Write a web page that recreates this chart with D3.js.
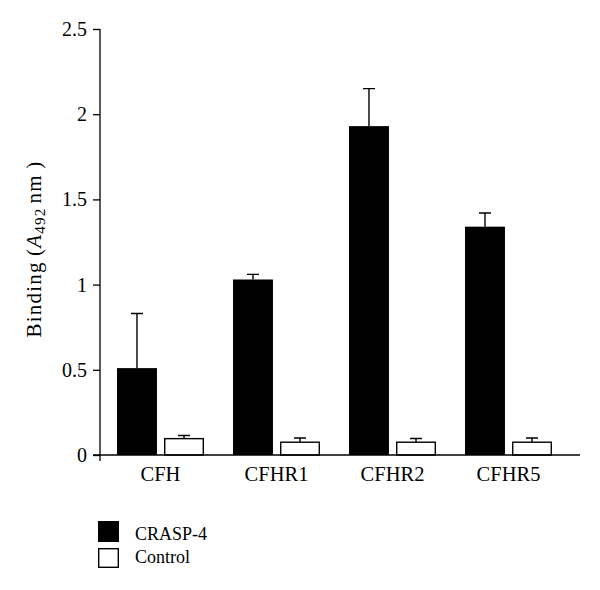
<!DOCTYPE html>
<html>
<head>
<meta charset="utf-8">
<script src="https://cdn.jsdelivr.net/npm/d3@7"></script>
<style>
  body { margin: 0; background: #fff; }
  text { font-family: "Liberation Serif", "DejaVu Serif", serif; fill: #000; }
</style>
</head>
<body>
<div id="chart"></div>
<script>
const categories = ["CFH", "CFHR1", "CFHR2", "CFHR5"];
const seriesNames = ["CRASP-4", "Control"];
const crasp4 = [0.51, 1.03, 1.93, 1.34];
const crasp4Err = [0.32, 0.03, 0.22, 0.08];
const control = [0.096, 0.075, 0.075, 0.075];
const controlErr = [0.018, 0.025, 0.022, 0.025];
const yTicks = [0, 0.5, 1, 1.5, 2, 2.5];

const W = 600, H = 590;
const margin = { top: 29, left: 100, right: 21, bottom: 135 };
const height = H - margin.top - margin.bottom;

const svg = d3.select("#chart").append("svg")
    .attr("width", W)
    .attr("height", H);

const g = svg.append("g")
    .attr("transform", `translate(${margin.left}, ${margin.top})`);

// scales
let y = d3.scaleLinear().domain([0, 2.5]).range([height, 0]);
let x0 = d3.scaleBand().domain(categories).range([17, 481]).paddingInner(0.0).paddingOuter(0);
let x1 = d3.scaleBand().domain(seriesNames).range([0, x0.bandwidth() - 29]).paddingInner(0.15);

const data = categories.map((c, i) => ({
    cat: c,
    vals: [
        { s: "CRASP-4", v: crasp4[i], e: crasp4Err[i] },
        { s: "Control", v: control[i], e: controlErr[i] }
    ]
}));

// y axis
let yAxis = g.append("g")
    .call(d3.axisLeft(y).tickValues(yTicks).tickSize(7).tickSizeOuter(0).tickFormat(d => String(d)))
yAxis.select(".domain").remove();
yAxis.selectAll("line").attr("stroke", "#000").attr("stroke-width", 1.3);
yAxis.selectAll("text").style("font-size", "20px").attr("dx", "-3");

g.append("line")
    .attr("x1", 0).attr("x2", 0)
    .attr("y1", 0).attr("y2", height + 6)
    .attr("stroke", "#000").attr("stroke-width", 1.3);

// error bars (drawn behind bars)
const groups = g.selectAll(".grp")
    .data(data)
    .enter()
    .append("g")
    .attr("class", "grp")
    .attr("transform", d => `translate(${x0(d.cat)}, 0)`);

groups.selectAll(".err")
    .data(d => d.vals)
    .enter()
    .append("path")
    .attr("class", "err")
    .attr("d", d => {
        const cx = x1(d.s) + x1.bandwidth() / 2;
        return `M${cx},${y(d.v)}V${y(d.v + d.e)}M${cx - 6},${y(d.v + d.e)}H${cx + 6}`;
    })
    .attr("stroke", "#000")
    .attr("stroke-width", 1.4)
    .attr("fill", "none");

groups.selectAll(".bar")
    .data(d => d.vals)
    .enter()
    .append("rect")
    .attr("class", "bar")
    .attr("x", d => x1(d.s) + (d.s === "Control" ? 0.7 : 0))
    .attr("y", d => y(d.v))
    .attr("width", d => x1.bandwidth() - (d.s === "Control" ? 1.4 : 0))
    .attr("height", d => height - y(d.v))
    .attr("fill", d => d.s === "CRASP-4" ? "#000" : "#fff")
    .attr("stroke", "#000")
    .attr("stroke-width", d => d.s === "Control" ? 1.4 : 0);

// x axis
g.append("line")
    .attr("x1", -7).attr("x2", 480)
    .attr("y1", height).attr("y2", height)
    .attr("stroke", "#000").attr("stroke-width", 1.3);

g.selectAll(".xlab")
    .data(categories)
    .enter()
    .append("text")
    .attr("class", "xlab")
    .attr("x", d => x0(d) + (x0.bandwidth() - 29) / 2)
    .attr("y", height + 26)
    .attr("text-anchor", "middle")
    .style("font-size", "20.5px")
    .text(d => d);

// y label
const ylab = svg.append("text")
    .attr("transform", `translate(41, 249) rotate(-90)`)
    .attr("text-anchor", "middle")
    .style("font-size", "21px")
    .style("letter-spacing", "1.2px");
ylab.append("tspan").text("Binding\u2009(");
ylab.append("tspan").style("font-style", "italic").text("A");
ylab.append("tspan").attr("dy", 4).style("font-size", "15px").text("492\u2009");
ylab.append("tspan").attr("dy", -4).text("nm\u2009)");

// legend
const legend = svg.append("g").attr("transform", "translate(98, 521)");
legend.selectAll("rect")
    .data(seriesNames)
    .enter()
    .append("rect")
    .attr("x", (d, i) => i === 0 ? 0 : 0.7)
    .attr("y", (d, i) => i === 0 ? 0 : 27.7)
    .attr("width", (d, i) => i === 0 ? 21 : 19.6)
    .attr("height", (d, i) => i === 0 ? 21 : 18.6)
    .attr("fill", (d, i) => i === 0 ? "#000" : "#fff")
    .attr("stroke", "#000")
    .attr("stroke-width", (d, i) => i === 0 ? 0 : 1.4);
legend.selectAll("text")
    .data(seriesNames)
    .enter()
    .append("text")
    .attr("x", 37)
    .attr("y", (d, i) => 19 + i * 23)
    .style("font-size", "18px")
    .text(d => d);
</script>
</body>
</html>
